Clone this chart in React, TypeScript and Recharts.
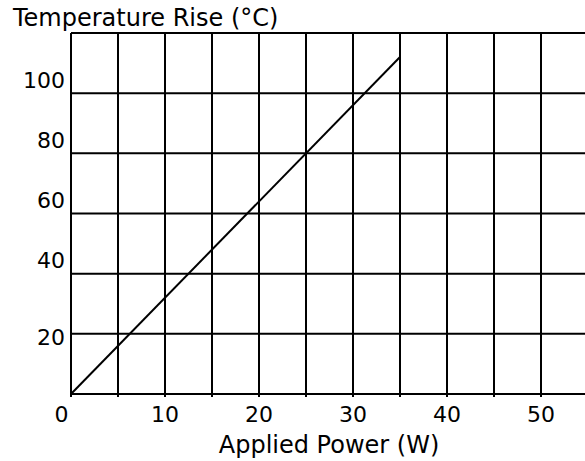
import React from 'react';
import { LineChart, Line, XAxis, YAxis, CartesianGrid } from 'recharts';

const power = [0, 35];
const temperature = [0, 112];
const xTicks = [0, 5, 10, 15, 20, 25, 30, 35, 40, 45, 50, 55];
const yTicks = [0, 20, 40, 60, 80, 100, 120];
const xLabeled = [0, 10, 20, 30, 40, 50];
const yLabeled = [20, 40, 60, 80, 100];
const yTitle = 'Temperature Rise (°C)';
const xTitle = 'Applied Power (W)';

const data = power.map((p, i) => ({ power: p, temp: temperature[i] }));

const FONT = '"DejaVu Sans", Verdana, sans-serif';

const XTick = (props: any) => {
  const { x, y, payload } = props;
  const v = payload.value;
  if (!xLabeled.includes(v)) return <g />;
  return (
    <text x={x + (v === 0 ? -9.5 : 0)} y={y} dy={23} textAnchor="middle" fontFamily={FONT} fontSize={22} fill="#000">
      {v}
    </text>
  );
};

const YTick = (props: any) => {
  const { x, y, payload } = props;
  const v = payload.value;
  if (!yLabeled.includes(v)) return <g />;
  return (
    <text x={x} y={y} dy={v === 20 ? 11 : -5.5} textAnchor="end" fontFamily={FONT} fontSize={22} fill="#000">
      {v}
    </text>
  );
};

export default function App() {
  return (
    <div style={{ position: 'fixed', left: 0, top: 0, width: 585, height: 461, overflow: 'hidden', background: '#fff' }}>
      <LineChart width={590} height={461} data={data} margin={{ top: 33, right: 2, bottom: 0, left: 0 }}>
        <CartesianGrid stroke="#000" strokeWidth={2} />
        <XAxis
          dataKey="power"
          type="number"
          domain={[0, 55]}
          ticks={xTicks}
          interval={0}
          allowDataOverflow
          height={67}
          tickSize={3}
          tickMargin={2}
          axisLine={{ stroke: '#000', strokeWidth: 2 }}
          tickLine={{ stroke: '#000', strokeWidth: 2 }}
          tick={<XTick />}
          label={{
            content: () => (
              <text x={329} y={453} textAnchor="middle" fontFamily={FONT} fontSize={24} fill="#000">
                {xTitle}
              </text>
            ),
          }}
        />
        <YAxis
          type="number"
          domain={[0, 120]}
          ticks={yTicks}
          interval={0}
          width={71}
          tickSize={0}
          tickMargin={6}
          tickLine={false}
          axisLine={{ stroke: '#000', strokeWidth: 2 }}
          tick={<YTick />}
          label={{
            content: () => (
              <text x={13} y={26} textAnchor="start" fontFamily={FONT} fontSize={24} fill="#000">
                {yTitle}
              </text>
            ),
          }}
        />
        <Line
          type="linear"
          dataKey="temp"
          stroke="#000"
          strokeWidth={2}
          dot={false}
          isAnimationActive={false}
        />
      </LineChart>
    </div>
  );
}
